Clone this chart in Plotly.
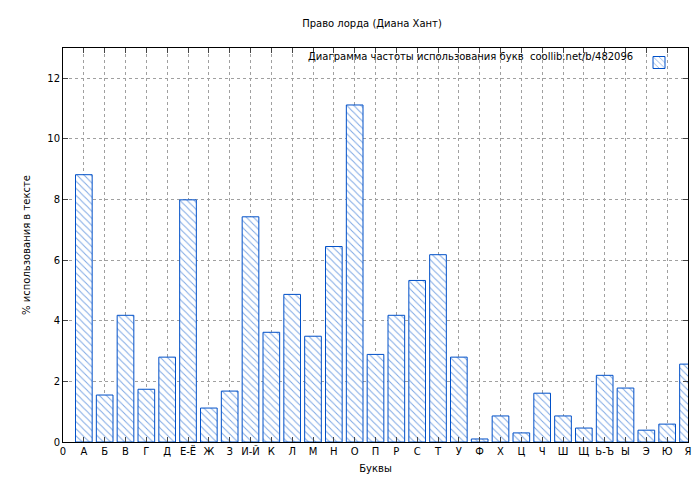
import plotly.graph_objects as go

letters = ['А', 'Б', 'В', 'Г', 'Д', 'Е-Ё', 'Ж', 'З', 'И-Й', 'К', 'Л', 'М', 'Н', 'О', 'П',
           'Р', 'С', 'Т', 'У', 'Ф', 'Х', 'Ц', 'Ч', 'Ш', 'Щ', 'Ь-Ъ', 'Ы', 'Э', 'Ю', 'Я']
percent = [8.82, 1.55, 4.18, 1.74, 2.8, 7.99, 1.12, 1.68, 7.43, 3.62, 4.87, 3.49, 6.45, 11.12, 2.89,
           4.18, 5.33, 6.18, 2.8, 0.1, 0.86, 0.3, 1.61, 0.86, 0.46, 2.2, 1.78, 0.39, 0.59, 2.57]
positions = list(range(1, len(letters) + 1))
tick_labels = ['0'] + letters
legend_text = 'Диаграмма частоты использования букв  coollib.net/b/482096'

fig = go.Figure(go.Bar(
    x=positions, y=percent, width=0.8, name=' ',
    marker=dict(color='white', line=dict(color='#0050c8', width=1),
                pattern=dict(shape='\\', fgcolor='#0050c8', size=5, solidity=0.2)),
))

axis_common = dict(showline=True, linecolor='black', mirror='ticks', ticks='inside',
                   ticklen=5, showgrid=True, gridcolor='#a0a0a0', griddash='dot',
                   zeroline=False, tickfont=dict(size=10))
fig.update_xaxes(range=[0, 30], tickvals=list(range(0, 31)), ticktext=tick_labels,
                 title=dict(text='Буквы', font=dict(size=10), standoff=8), **axis_common)
fig.update_yaxes(range=[0, 13], dtick=2,
                 title=dict(text='% использования в тексте', font=dict(size=10), standoff=14),
                 **axis_common)
fig.add_annotation(text=legend_text, xref='paper', yref='paper', x=0.915, y=0.997,
                   xanchor='right', yanchor='top', showarrow=False, font=dict(size=10))
fig.update_layout(
    width=700, height=480, paper_bgcolor='white', plot_bgcolor='white',
    font=dict(family='DejaVu Sans', color='black', size=10),
    title=dict(text='Право лорда (Диана Хант)', x=0.52, y=0.975, font=dict(size=10)),
    margin=dict(l=55, r=20, t=40, b=46),
    showlegend=True,
    legend=dict(x=1.0, y=1.0, xanchor='right', yanchor='top', bgcolor='rgba(0,0,0,0)',
                itemwidth=30, font=dict(size=10)),
)
fig.write_html('out.html')
